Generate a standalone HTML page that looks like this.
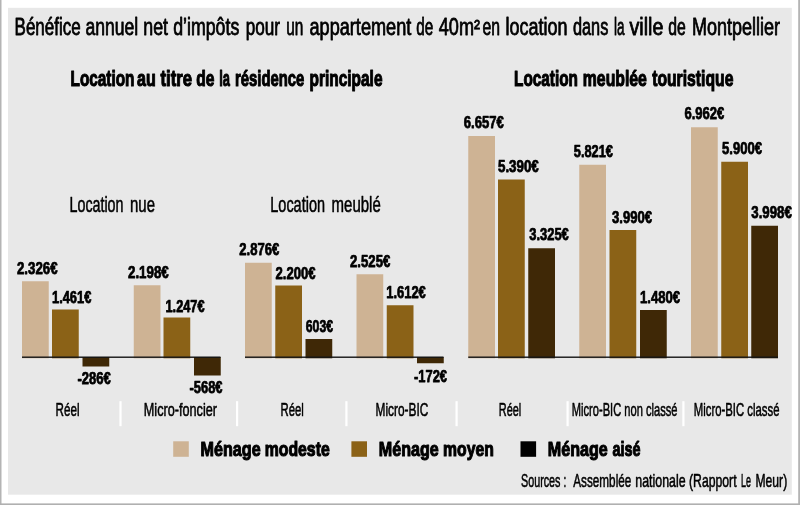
<!DOCTYPE html>
<html lang="fr"><head><meta charset="utf-8"><title>Bénéfice annuel net d’impôts</title>
<style>html,body{margin:0;padding:0;background:#fff}svg{display:block}text{font-family:"Liberation Sans",sans-serif;fill:#000;stroke:#000;stroke-width:0.55px;stroke-linejoin:round}text.b{stroke-width:1.1px}</style></head>
<body>
<svg width="800" height="505" viewBox="0 0 800 505">
<rect x="0" y="0" width="800" height="505" fill="#ffffff"/>
<rect x="0" y="0" width="1.5" height="505" fill="#b4b4b4"/>
<rect x="798.2" y="0" width="1.8" height="505" fill="#b4b4b4"/>
<rect x="0" y="503.4" width="800" height="1.6" fill="#b0b0b0"/>
<rect x="8" y="7.8" width="783.8" height="486.9" fill="#e8e8e8"/>
<text y="34.6" font-size="23" style="stroke-width:0.8px"><tspan x="14.6" textLength="66.1" lengthAdjust="spacingAndGlyphs">Bénéfice</tspan> <tspan x="85.5" textLength="52.7" lengthAdjust="spacingAndGlyphs">annuel</tspan> <tspan x="143.3" textLength="24.7" lengthAdjust="spacingAndGlyphs">net</tspan> <tspan x="173.2" textLength="66.1" lengthAdjust="spacingAndGlyphs">d’impôts</tspan> <tspan x="245.7" textLength="34.3" lengthAdjust="spacingAndGlyphs">pour</tspan> <tspan x="286.2" textLength="17.1" lengthAdjust="spacingAndGlyphs">un</tspan> <tspan x="309.5" textLength="101.8" lengthAdjust="spacingAndGlyphs">appartement</tspan> <tspan x="416.3" textLength="17.0" lengthAdjust="spacingAndGlyphs">de</tspan> <tspan x="438.8" textLength="41.2" lengthAdjust="spacingAndGlyphs">40m²</tspan> <tspan x="482.5" textLength="17.5" lengthAdjust="spacingAndGlyphs">en</tspan> <tspan x="505.5" textLength="62.0" lengthAdjust="spacingAndGlyphs">location</tspan> <tspan x="573" textLength="35.3" lengthAdjust="spacingAndGlyphs">dans</tspan> <tspan x="614" textLength="10.5" lengthAdjust="spacingAndGlyphs">la</tspan> <tspan x="629.5" textLength="33.8" lengthAdjust="spacingAndGlyphs">ville</tspan> <tspan x="668.3" textLength="17.5" lengthAdjust="spacingAndGlyphs">de</tspan> <tspan x="692" textLength="88" lengthAdjust="spacingAndGlyphs">Montpellier</tspan></text>
<text y="85.7" font-size="22" font-weight="700" class="b"><tspan x="70.5" textLength="64.0" lengthAdjust="spacingAndGlyphs">Location</tspan> <tspan x="137" textLength="18.8" lengthAdjust="spacingAndGlyphs">au</tspan> <tspan x="160.5" textLength="31.5" lengthAdjust="spacingAndGlyphs">titre</tspan> <tspan x="196.3" textLength="18.2" lengthAdjust="spacingAndGlyphs">de</tspan> <tspan x="219.3" textLength="10.7" lengthAdjust="spacingAndGlyphs">la</tspan> <tspan x="235" textLength="69.3" lengthAdjust="spacingAndGlyphs">résidence</tspan> <tspan x="309.5" textLength="73.0" lengthAdjust="spacingAndGlyphs">principale</tspan></text>
<text y="85.7" font-size="22" font-weight="700" class="b"><tspan x="514" textLength="64" lengthAdjust="spacingAndGlyphs">Location</tspan> <tspan x="582.8" textLength="64.1" lengthAdjust="spacingAndGlyphs">meublée</tspan> <tspan x="652.2" textLength="81.2" lengthAdjust="spacingAndGlyphs">touristique</tspan></text>
<text y="212" font-size="21.8"><tspan x="69.5" textLength="54.0" lengthAdjust="spacingAndGlyphs">Location</tspan> <tspan x="130" textLength="25" lengthAdjust="spacingAndGlyphs">nue</tspan></text>
<text y="212" font-size="21.8"><tspan x="270.3" textLength="54.7" lengthAdjust="spacingAndGlyphs">Location</tspan> <tspan x="331.6" textLength="49.2" lengthAdjust="spacingAndGlyphs">meublé</tspan></text>
<rect x="22" y="281.25" width="26.75" height="77.05" fill="#ceb394"/>
<rect x="52" y="309.5" width="26.75" height="48.8" fill="#8b6217"/>
<rect x="82.5" y="357" width="26.75" height="9.5" fill="#3f2806"/>
<rect x="133.75" y="285.25" width="26.75" height="73.05" fill="#ceb394"/>
<rect x="163.5" y="317.5" width="26.75" height="40.8" fill="#8b6217"/>
<rect x="194" y="357" width="26.75" height="18.5" fill="#3f2806"/>
<rect x="245" y="262.75" width="26.75" height="95.55" fill="#ceb394"/>
<rect x="275.25" y="285.5" width="26.75" height="72.8" fill="#8b6217"/>
<rect x="305.5" y="339" width="26.75" height="19.3" fill="#3f2806"/>
<rect x="356.5" y="274.25" width="26.75" height="84.05" fill="#ceb394"/>
<rect x="386.75" y="305.25" width="26.75" height="53.05" fill="#8b6217"/>
<rect x="417" y="357" width="26.75" height="6.25" fill="#3f2806"/>
<rect x="468.25" y="136" width="26.75" height="222.3" fill="#ceb394"/>
<rect x="498" y="179.5" width="26.75" height="178.8" fill="#8b6217"/>
<rect x="528.25" y="248.25" width="26.75" height="110.05" fill="#3f2806"/>
<rect x="579.25" y="164.75" width="26.75" height="193.55" fill="#ceb394"/>
<rect x="609.5" y="230" width="26.75" height="128.3" fill="#8b6217"/>
<rect x="640" y="310" width="26.75" height="48.3" fill="#3f2806"/>
<rect x="691" y="127.25" width="26.75" height="231.05" fill="#ceb394"/>
<rect x="721.25" y="161.75" width="26.75" height="196.55" fill="#8b6217"/>
<rect x="751.25" y="225.75" width="26.75" height="132.55" fill="#3f2806"/>
<rect x="22" y="356.5" width="198.5" height="1.4" fill="#151515"/>
<rect x="245" y="356.5" width="198.5" height="1.4" fill="#151515"/>
<rect x="468.25" y="356.5" width="309.75" height="1.4" fill="#151515"/>
<text x="17" y="274.0" font-size="16.3" font-weight="700" class="b" textLength="40.5" lengthAdjust="spacingAndGlyphs" style="stroke-width:0.75px">2.326€</text>
<text x="52" y="302.8" font-size="16.3" font-weight="700" class="b" textLength="39.3" lengthAdjust="spacingAndGlyphs" style="stroke-width:0.75px">1.461€</text>
<text x="77.5" y="384.0" font-size="16.3" font-weight="700" class="b" textLength="33.3" lengthAdjust="spacingAndGlyphs" style="stroke-width:0.75px">-286€</text>
<text x="128" y="277.6" font-size="16.3" font-weight="700" class="b" textLength="40.8" lengthAdjust="spacingAndGlyphs" style="stroke-width:0.75px">2.198€</text>
<text x="165.5" y="311.5" font-size="16.3" font-weight="700" class="b" textLength="39.0" lengthAdjust="spacingAndGlyphs" style="stroke-width:0.75px">1.247€</text>
<text x="189.5" y="392.9" font-size="16.3" font-weight="700" class="b" textLength="33.0" lengthAdjust="spacingAndGlyphs" style="stroke-width:0.75px">-568€</text>
<text x="239.3" y="254.8" font-size="16.3" font-weight="700" class="b" textLength="40.0" lengthAdjust="spacingAndGlyphs" style="stroke-width:0.75px">2.876€</text>
<text x="275.5" y="278.9" font-size="16.3" font-weight="700" class="b" textLength="40.0" lengthAdjust="spacingAndGlyphs" style="stroke-width:0.75px">2.200€</text>
<text x="305.8" y="331.5" font-size="16.3" font-weight="700" class="b" textLength="27.2" lengthAdjust="spacingAndGlyphs" style="stroke-width:0.75px">603€</text>
<text x="350" y="266.6" font-size="16.3" font-weight="700" class="b" textLength="40.3" lengthAdjust="spacingAndGlyphs" style="stroke-width:0.75px">2.525€</text>
<text x="386.3" y="297.8" font-size="16.3" font-weight="700" class="b" textLength="39.5" lengthAdjust="spacingAndGlyphs" style="stroke-width:0.75px">1.612€</text>
<text x="414" y="381.9" font-size="16.3" font-weight="700" class="b" textLength="33" lengthAdjust="spacingAndGlyphs" style="stroke-width:0.75px">-172€</text>
<text x="463.8" y="128.3" font-size="16.3" font-weight="700" class="b" textLength="40.0" lengthAdjust="spacingAndGlyphs" style="stroke-width:0.75px">6.657€</text>
<text x="498" y="172.3" font-size="16.3" font-weight="700" class="b" textLength="40.8" lengthAdjust="spacingAndGlyphs" style="stroke-width:0.75px">5.390€</text>
<text x="529.3" y="240.3" font-size="16.3" font-weight="700" class="b" textLength="39.5" lengthAdjust="spacingAndGlyphs" style="stroke-width:0.75px">3.325€</text>
<text x="573.8" y="156.6" font-size="16.3" font-weight="700" class="b" textLength="39.2" lengthAdjust="spacingAndGlyphs" style="stroke-width:0.75px">5.821€</text>
<text x="612" y="223.1" font-size="16.3" font-weight="700" class="b" textLength="40" lengthAdjust="spacingAndGlyphs" style="stroke-width:0.75px">3.990€</text>
<text x="640" y="302.8" font-size="16.3" font-weight="700" class="b" textLength="40" lengthAdjust="spacingAndGlyphs" style="stroke-width:0.75px">1.480€</text>
<text x="684.5" y="119.1" font-size="16.3" font-weight="700" class="b" textLength="39.8" lengthAdjust="spacingAndGlyphs" style="stroke-width:0.75px">6.962€</text>
<text x="722" y="153.6" font-size="16.3" font-weight="700" class="b" textLength="40" lengthAdjust="spacingAndGlyphs" style="stroke-width:0.75px">5.900€</text>
<text x="751.3" y="218.0" font-size="16.3" font-weight="700" class="b" textLength="40.5" lengthAdjust="spacingAndGlyphs" style="stroke-width:0.75px">3.998€</text>
<rect x="119.4" y="401.2" width="2.2" height="25" fill="#ffffff"/>
<rect x="236.0" y="401.2" width="2.2" height="25" fill="#ffffff"/>
<rect x="345.29999999999995" y="401.2" width="2.2" height="25" fill="#ffffff"/>
<rect x="455.5" y="401.2" width="2.2" height="25" fill="#ffffff"/>
<rect x="566.5" y="401.2" width="2.2" height="25" fill="#ffffff"/>
<rect x="682.3" y="401.2" width="2.2" height="25" fill="#ffffff"/>
<text x="55.5" y="415.6" font-size="18.7" textLength="24.0" lengthAdjust="spacingAndGlyphs">Réel</text>
<text x="143.8" y="415.6" font-size="18.7" textLength="73.2" lengthAdjust="spacingAndGlyphs">Micro-foncier</text>
<text x="280.5" y="415.6" font-size="18.7" textLength="23.3" lengthAdjust="spacingAndGlyphs">Réel</text>
<text x="375.5" y="415.6" font-size="18.7" textLength="52.8" lengthAdjust="spacingAndGlyphs">Micro-BIC</text>
<text x="498.8" y="415.6" font-size="18.7" textLength="22.5" lengthAdjust="spacingAndGlyphs">Réel</text>
<text x="571.8" y="415.6" font-size="18.7" textLength="105.7" lengthAdjust="spacingAndGlyphs">Micro-BIC non classé</text>
<text x="693.8" y="415.6" font-size="18.7" textLength="85.7" lengthAdjust="spacingAndGlyphs">Micro-BIC classé</text>
<rect x="173.2" y="441.3" width="15.6" height="15.5" fill="#ceb394"/>
<text y="456.4" font-size="20.4" font-weight="700" class="b"><tspan x="200.6" textLength="60.0" lengthAdjust="spacingAndGlyphs">Ménage</tspan> <tspan x="264.7" textLength="65.0" lengthAdjust="spacingAndGlyphs">modeste</tspan></text>
<rect x="351.4" y="441.3" width="15.6" height="15.5" fill="#8b6217"/>
<text y="456.4" font-size="20.4" font-weight="700" class="b"><tspan x="378.8" textLength="60.0" lengthAdjust="spacingAndGlyphs">Ménage</tspan> <tspan x="443.1" textLength="50.7" lengthAdjust="spacingAndGlyphs">moyen</tspan></text>
<rect x="520.5" y="441.3" width="15.6" height="15.5" fill="#000"/>
<text y="456.4" font-size="20.4" font-weight="700" class="b"><tspan x="547.8" textLength="60.0" lengthAdjust="spacingAndGlyphs">Ménage</tspan> <tspan x="612.5" textLength="28.1" lengthAdjust="spacingAndGlyphs">aisé</tspan></text>
<text y="487" font-size="18.2"><tspan x="521" textLength="39.5" lengthAdjust="spacingAndGlyphs">Sources</tspan> <tspan x="563.6" textLength="2.8" lengthAdjust="spacingAndGlyphs">:</tspan> <tspan x="573.3" textLength="58.0" lengthAdjust="spacingAndGlyphs">Assemblée</tspan> <tspan x="635.3" textLength="50.3" lengthAdjust="spacingAndGlyphs">nationale</tspan> <tspan x="689" textLength="47.6" lengthAdjust="spacingAndGlyphs">(Rapport</tspan> <tspan x="741" textLength="10" lengthAdjust="spacingAndGlyphs">Le</tspan> <tspan x="755.5" textLength="31.7" lengthAdjust="spacingAndGlyphs">Meur)</tspan></text>
</svg>
</body></html>
